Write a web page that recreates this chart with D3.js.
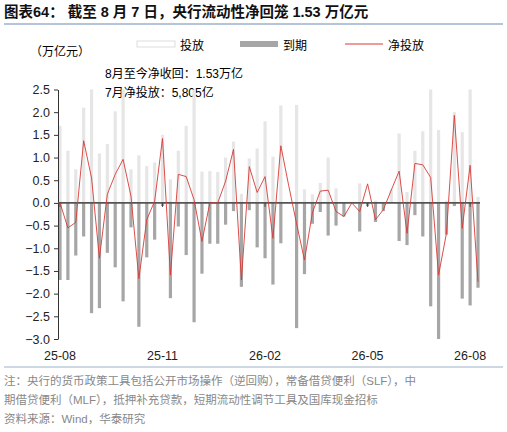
<!DOCTYPE html>
<html><head><meta charset="utf-8">
<script src="https://cdn.jsdelivr.net/npm/d3@7"></script>
<style>body{margin:0;background:#fff}text{font-family:"Liberation Sans","Noto Sans CJK SC",sans-serif}</style>
</head><body><svg id="c" width="507" height="432"></svg>
<script>
const weeks = d3.range(54);
const issue = [1.7,1.15,0.74,2.1,3.0,1.09,1.3,2.02,3.1,0.74,1.05,0.81,0.89,1.5,0.52,1.15,1.7,2.7,0.69,0.7,0.68,1.0,1.35,0.2,0.98,1.2,1.8,1.02,2.15,0,2.16,0.3,0.19,0.44,1.0,0.32,0,0,0.43,0,0.05,0,0.3,1.53,0.24,1.15,1.58,2.54,1.61,0.05,2.0,1.56,2.54,0.13];
const mature = [-1.7,-1.7,-1.16,-0.74,-2.43,-2.32,-1.1,-1.42,-2.17,-0.54,-2.73,-1.2,-0.81,-0.07,-2.1,-0.52,-1.15,-2.63,-1.56,-0.9,-0.9,-0.48,-0.18,-1.85,-0.16,-0.98,-1.22,-1.8,-0.89,0,-2.76,-1.57,-0.46,-0.2,-0.72,-0.5,-0.3,0,-0.63,-0.07,-0.42,-0.18,0,-0.84,-0.93,-0.27,-0.74,-2.28,-3.2,-0.7,-0.07,-2.11,-2.26,-1.87];
const net = [0,-0.55,-0.43,1.37,0.55,-1.22,0.19,0.63,0.96,0.15,-1.67,-0.37,0.04,1.42,-1.59,0.63,0.58,0.07,-0.85,0,0,0.48,1.18,-1.7,0.8,0.23,0.58,-0.78,1.26,0.38,-0.46,-1.26,-0.22,0.26,0.28,-0.19,-0.3,0,-0.19,0.42,-0.37,-0.15,0.28,0.7,-0.67,0.87,0.84,0.56,-1.59,-0.67,1.93,-0.56,0.83,-1.74];
const xTickIdx = [0,13,26,39,52];
const xTickLabels = ["25-08","25-11","26-02","26-05","26-08"];
const yTicks = [2.5,2.0,1.5,1.0,0.5,0.0,-0.5,-1.0,-1.5,-2.0,-2.5,-3.0];

const svg = d3.select("#c");
const x = d3.scaleLinear().domain([0,53]).range([60,478]);
const y = d3.scaleLinear().domain([-3,2.5]).range([339,89.5]);
const cl = v => Math.max(-3, Math.min(2.5, v));

svg.append("text").attr("x",4).attr("y",17).attr("font-size",14.5).attr("font-weight","bold").attr("fill","#111")
  .text("图表64：  截至 8 月 7 日，央行流动性净回笼 1.53 万亿元");
svg.append("line").attr("x1",4).attr("x2",503).attr("y1",24).attr("y2",24).attr("stroke","#9db2cc").attr("stroke-width",1.3);

svg.append("rect").attr("x",137).attr("y",41).attr("width",38).attr("height",6).attr("fill","#fff").attr("stroke","#ddd").attr("stroke-width",1);
svg.append("text").attr("x",180).attr("y",50).attr("font-size",12).text("投放");
svg.append("rect").attr("x",240).attr("y",41).attr("width",38).attr("height",6).attr("fill","#a6a6a6");
svg.append("text").attr("x",283).attr("y",50).attr("font-size",12).text("到期");
svg.append("line").attr("x1",345).attr("x2",383).attr("y1",44).attr("y2",44).attr("stroke","#d83a36");
svg.append("text").attr("x",388).attr("y",50).attr("font-size",12).text("净投放");
svg.append("text").attr("x",30).attr("y",56).attr("font-size",12).text("（万亿元）");

svg.append("text").attr("x",105).attr("y",78).attr("font-size",12).text("8月至今净收回：1.53万亿");
svg.append("text").attr("x",105).attr("y",97).attr("font-size",12).text("7月净投放：5,805亿");

svg.selectAll(".iss").data(weeks.filter(i=>issue[i]>0)).join("rect")
  .attr("x",i=>x(i)-1.6).attr("width",3.2).attr("y",i=>y(cl(issue[i]))).attr("height",i=>y(0)-y(cl(issue[i]))).attr("fill","#e6e6e6");
svg.selectAll(".mat").data(weeks.filter(i=>mature[i]<0)).join("rect")
  .attr("x",i=>x(i)-1.6).attr("width",3.2).attr("y",y(0)).attr("height",i=>y(cl(mature[i]))-y(0)).attr("fill","#a6a6a6");

const ya = svg.append("g").attr("transform","translate(58,0)")
  .call(d3.axisLeft(y).tickValues(yTicks).tickFormat(d3.format(".1f")).tickSize(4).tickSizeOuter(0));
ya.select(".domain").attr("stroke","#333");
ya.selectAll("line").attr("stroke","#333");
ya.selectAll("text").attr("font-size",12.5).attr("fill","#222").attr("x",-8);

svg.append("line").attr("x1",58).attr("x2",480).attr("y1",y(0)).attr("y2",y(0)).attr("stroke","#555").attr("stroke-width",1.6);
svg.selectAll(".zt").data(xTickIdx).join("line").attr("x1",i=>x(i)).attr("x2",i=>x(i)).attr("y1",y(0)).attr("y2",y(0)+4).attr("stroke","#444");

svg.append("path").datum(weeks).attr("fill","none").attr("stroke","#d83a36").attr("stroke-width",0.9)
  .attr("d",d3.line().x(i=>x(i)).y(i=>y(net[i])));

svg.selectAll(".xl").data(xTickIdx).join("text").attr("x",i=>x(i)).attr("y",360).attr("text-anchor","middle").attr("font-size",12.5).attr("fill","#222")
  .text((d,k)=>xTickLabels[k]);

svg.append("line").attr("x1",4).attr("x2",503).attr("y1",367).attr("y2",367).attr("stroke","#9db2cc").attr("stroke-width",1.2);
const notes = ["注：央行的货币政策工具包括公开市场操作（逆回购），常备借贷便利（SLF），中","期借贷便利（MLF），抵押补充贷款，短期流动性调节工具及国库现金招标","资料来源：Wind，华泰研究"];
svg.selectAll(".nt").data(notes).join("text").attr("x",4).attr("y",(d,i)=>385+i*19).attr("font-size",11.5).attr("fill","#888").text(d=>d);
</script></body></html>
